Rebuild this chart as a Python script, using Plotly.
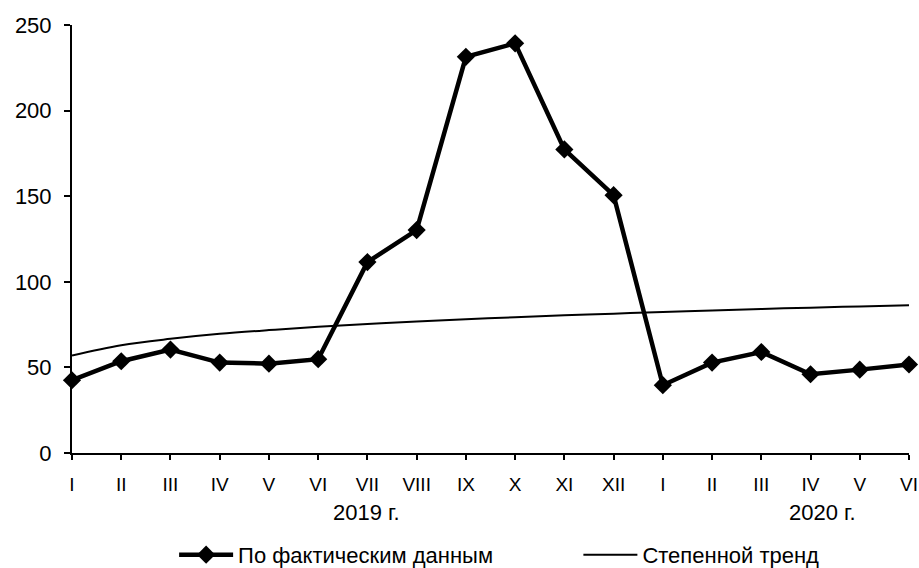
import plotly.graph_objects as go

months = ["I", "II", "III", "IV", "V", "VI", "VII", "VIII", "IX", "X", "XI", "XII",
          "I", "II", "III", "IV", "V", "VI"]
actual = [42.5, 53.6, 60.4, 52.8, 52.2, 54.8, 111.5, 130.2, 231.4, 239.3, 177.3, 150.6,
          39.6, 52.8, 59.0, 46.0, 48.7, 51.7]
trend = [57.0, 63.0, 66.7, 69.6, 71.8, 73.7, 75.4, 76.8, 78.1, 79.3, 80.4, 81.4,
         82.4, 83.2, 84.1, 84.9, 85.6, 86.3]
years = ["2019 г.", "2020 г."]
year_pos = [5.98, 15.25]
y_ticks = [0, 50, 100, 150, 200, 250]

idx = list(range(len(months)))
FONT = "Liberation Sans, Arial, sans-serif"

fig = go.Figure()
fig.add_trace(go.Scatter(
    x=idx, y=actual, mode="lines+markers", name="По фактическим данным",
    line=dict(color="black", width=4.5),
    marker=dict(symbol="diamond", size=14, color="black"),
    cliponaxis=False, legend="legend",
))
fig.add_trace(go.Scatter(
    x=idx, y=trend, mode="lines", name="Степенной тренд",
    line=dict(color="black", width=2, shape="spline"),
    cliponaxis=False, legend="legend2",
))

for yr, xp in zip(years, year_pos):
    fig.add_annotation(x=xp, xref="x", y=-0.139, yref="paper", text=yr,
                       showarrow=False, yanchor="middle", xanchor="center",
                       font=dict(family=FONT, size=22, color="black"))

legend_common = dict(orientation="h", xanchor="left", y=-0.238, yanchor="middle",
                     itemwidth=54, font=dict(family=FONT, size=22, color="black"),
                     bgcolor="rgba(0,0,0,0)")

fig.update_layout(
    width=919, height=568,
    margin=dict(l=72, r=10, t=25, b=115, autoexpand=False),
    paper_bgcolor="white", plot_bgcolor="white",
    font=dict(family=FONT, size=19, color="black"),
    showlegend=True,
    legend=dict(x=0.122, **legend_common),
    legend2=dict(x=0.605, **legend_common),
    xaxis=dict(range=[0, 17], tickmode="array", tickvals=idx, ticktext=months,
               showline=True, linecolor="black", linewidth=2,
               ticks="outside", ticklen=5, tickwidth=2, tickcolor="black",
               tickfont=dict(size=19), ticklabeloverflow="allow",
               showgrid=False, zeroline=False, ticklabelstandoff=8),
    yaxis=dict(range=[0, 250], tickmode="array", tickvals=y_ticks,
               showline=True, linecolor="black", linewidth=2,
               ticks="outside", ticklen=6, tickwidth=2, tickcolor="black",
               tickfont=dict(size=22),
               showgrid=False, zeroline=False, ticklabelstandoff=8),
)

# remove the browser's default 8px body margin so the figure sits at (0, 0)
fig.write_html("out.html",
               config={"displayModeBar": False},
               post_script="document.body.style.margin='0';"
                           "document.body.style.overflow='hidden';")
